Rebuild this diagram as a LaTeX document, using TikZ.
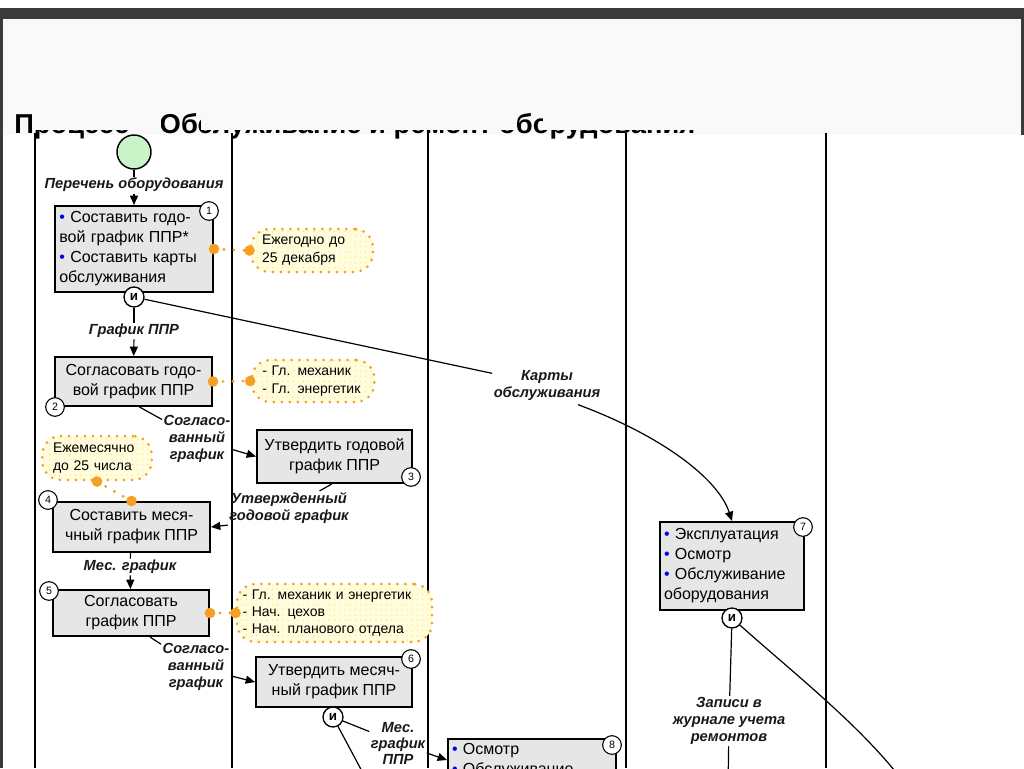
\documentclass[tikz,border=0pt]{standalone}
\usepackage{fontspec}
\setmainfont{Liberation Sans}
\usetikzlibrary{arrows.meta,patterns.meta,calc}
\definecolor{topbar}{RGB}{58,58,58}
\definecolor{hdr}{RGB}{249,249,249}
\definecolor{boxgray}{RGB}{230,230,230}
\definecolor{bblue}{RGB}{0,0,240}
\definecolor{orng}{RGB}{245,160,35}
\definecolor{cyell}{RGB}{255,253,222}
\definecolor{chatch}{RGB}{250,224,60}
\definecolor{startg}{RGB}{200,244,200}
\newcommand{\mybul}{{\color{bblue}\textbullet}~}
\begin{document}
\begin{tikzpicture}[x=0.75pt,y=-0.75pt,
  box/.style={draw=black, line width=1.5pt, fill=boxgray, font=\fontsize{12pt}{15pt}\selectfont, inner sep=2.5pt},
  lbox/.style={box, align=left},
  cbox/.style={box, align=center},
  num/.style={circle, draw=black, line width=0.8pt, fill=white, minimum size=14pt, inner sep=0pt, font=\fontsize{8pt}{8pt}\selectfont},
  andc/.style={circle, draw=black, line width=1pt, fill=white, minimum size=15pt, inner sep=0pt, font=\fontsize{10pt}{10pt}\selectfont\bfseries},
  startc/.style={circle, draw=black, line width=1.1pt, fill=startg, minimum size=25.5pt, inner sep=0pt},
  lab/.style={font=\fontsize{11pt}{12.75pt}\selectfont\bfseries\itshape, align=center, inner sep=1pt, text=black!90},
  arr/.style={line width=0.9pt, -{Triangle[length=7pt,width=6pt]}},
  ln/.style={line width=0.9pt},
  lane/.style={line width=1.1pt, black},
  call/.style={draw=orng, line width=2.25pt, dash pattern=on 0pt off 6pt, line cap=round, rounded corners=14pt,
    preaction={fill=cyell},
    preaction={pattern={Lines[angle=45,distance=5.5pt,line width=1.2pt]}, pattern color=chatch},
    preaction={pattern={Lines[angle=-45,distance=5.5pt,line width=1.2pt]}, pattern color=chatch},
    align=left, font=\fontsize{10.5pt}{13.5pt}\selectfont, text=black, inner xsep=8pt, inner ysep=2pt},
  odot/.style={draw=orng, line width=2.4pt, dash pattern=on 0pt off 7.5pt, line cap=round}
]
\useasboundingbox (0,0) rectangle (1024,768);
\clip (0,0) rectangle (1024,768);
% frame and header
\fill[white] (0,0) rectangle (1024,768);
\fill[hdr] (3,19) rectangle (1021,135);
% title, mostly hidden behind a cover as in the reference
\node[anchor=base west, inner sep=0pt, font=\fontsize{20.5pt}{21pt}\selectfont\bfseries] (title) at (14,133) {Процесс – Обслуживание и ремонт оборудования};
\fill[hdr] (3,60) rectangle (12,129.5);
\fill[hdr] (32,60) rectangle (161,129.5);
\fill[hdr] (201,60) rectangle (517,129.5);
\fill[hdr] (543,60) rectangle (760,129.5);
\fill[hdr] (3,60) rectangle (1021,103);
\fill[topbar] (0,8) rectangle (1024,19);
\fill[topbar] (0,8) rectangle (3,768);
\fill[topbar] (1021,8) rectangle (1024,135);
% lanes
\foreach \xx in {35,232,428,626,826} \draw[lane] (\xx,133) -- (\xx,768);

% nodes
\node[startc] (st) at (134,152) {};
\node[lab] (l0) at (134,185) {Перечень оборудования};
\node[lbox, minimum width=118.5pt, minimum height=64.5pt, text width=112pt] (b1) at (134,249)
  {\mybul Составить годо-\\вой график ППР*\\\mybul Составить карты\\обслуживания};
\node[num] (n1) at (209,211) {1};
\node[call, minimum width=91.5pt, minimum height=32.25pt, text width=75pt] (c1) at (312,250.5) {Ежегодно до\\25 декабря};
\node[andc] (i1) at (134,297) {и};
\node[lab] (l1) at (134,331) {График ППР};

\node[cbox, minimum width=117.75pt, minimum height=36.75pt] (b2) at (133.5,381.5) {Согласовать годо-\\вой график ППР};
\node[num] (n2) at (55,407) {2};
\node[call, minimum width=90pt, minimum height=31.5pt, text width=76pt] (c2) at (313,381) {- Гл. механик\\- Гл. энергетик};
\node[lab] (l2) at (197,439) {Согласо-\\ванный\\график};

\node[cbox, minimum width=116.25pt, minimum height=39.75pt] (b3) at (334.5,456.5) {Утвердить годовой\\график ППР};
\node[num] (n3) at (411,477) {3};
\node[lab] (l3) at (289,508) {Утвержденный\\годовой график};

\node[call, minimum width=81pt, minimum height=33pt, text width=66pt] (c4) at (97,458) {Ежемесячно\\до 25 числа};
\node[cbox, minimum width=117.75pt, minimum height=37.5pt] (b4) at (131.5,527) {Составить меся-\\чный график ППР};
\node[num] (n4) at (48,500) {4};
\node[lab] (l4) at (130,567) {Мес. график};

\node[cbox, minimum width=117pt, minimum height=34.5pt] (b5) at (131,613) {Согласовать\\график ППР};
\node[num] (n5) at (49,591) {5};
\node[call, minimum width=146.25pt, minimum height=43.5pt, text width=138pt, inner xsep=4pt, font=\fontsize{10.5pt}{13pt}\selectfont] (c5) at (334.5,613) {- Гл. механик и энергетик\\- Нач. цехов\\- Нач. планового отдела};
\node[lab] (l5) at (196,667) {Согласо-\\ванный\\график};

\node[cbox, minimum width=117pt, minimum height=37.5pt] (b6) at (334,682) {Утвердить месяч-\\ный график ППР};
\node[num] (n6) at (411,659) {6};
\node[andc] (i6) at (333,717) {и};
\node[lab, font=\fontsize{11pt}{12pt}\selectfont\bfseries\itshape] (l6) at (398,743) {Мес.\\график\\ППР};

\node[lbox, anchor=north west, minimum width=126pt, text width=120pt, inner ysep=3pt] (b8) at (447,738) {\mybul Осмотр\\\mybul Обслуживание};
\node[num] (n8) at (612,745) {8};

\node[lab] (lK) at (547,385) {Карты\\обслуживания};
\node[lbox, minimum width=108pt, minimum height=66pt, text width=102pt] (b7) at (732,566)
  {\mybul Эксплуатация\\\mybul Осмотр\\\mybul Обслуживание\\оборудования};
\node[num] (n7) at (803,527) {7};
\node[andc] (i7) at (732,618) {и};
\node[lab] (l7) at (729,721) {Записи в\\журнале учета\\ремонтов};

\coordinate (o6) at (372,790);
\coordinate (o7) at (728,790);
\coordinate (o7b) at (902,780);
\coordinate (b8in) at ($(b8.north west)+(0,22)$);

% connectors
\draw[ln] (st) -- (l0);
\draw[arr] (l0) -- (b1);
\draw[ln] (i1) -- (l1);
\draw[arr] (l1) -- (b2);
\draw[ln] (i1) -- (lK);
\draw[arr] ($(lK.south)+(31,3)$) .. controls (660,435) and (718,478) .. (b7.north);
\draw[ln] ([xshift=4.5pt]b2.south) -- (l2);
\draw[arr] (l2) -- (b3.west);
\draw[ln] ([xshift=-2pt]b3.south) -- (l3);
\draw[arr] (l3.south west) -- (b4.east);
\draw[ln] (b4) -- (l4);
\draw[arr] (l4) -- (b5);
\draw[ln] ([xshift=14.25pt]b5.south) -- (l5);
\draw[arr] (l5) -- (b6.west);
\draw[ln] (i6) -- (l6);
\draw[arr] (l6) -- (b8in);
\draw[ln] (i6) -- (o6);
\draw[ln] (i7) -- (l7);
\draw[ln] (l7) -- (o7);
\draw[ln] (i7) .. controls (790,670) and (860,725) .. (o7b);

% orange dotted links
\draw[odot] (b1.east) -- (c1.west);
\draw[odot] (b2.east) -- (c2.west);
\draw[odot] (c4.south) -- (b4.north);
\draw[odot] (b5.east) -- (c5.west);
\foreach \p in {b1.east,c1.west,b2.east,c2.west,c4.south,b4.north,b5.east,c5.west}
  \fill[orng] (\p) circle (4pt);
\end{tikzpicture}
\end{document}
